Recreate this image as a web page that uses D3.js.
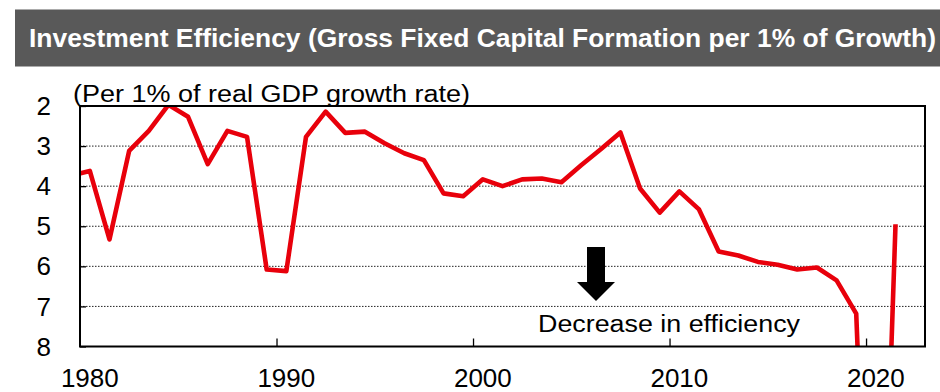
<!DOCTYPE html>
<html>
<head>
<meta charset="utf-8">
<script src="https://cdn.jsdelivr.net/npm/d3@7"></script>
<style>
  html, body { margin: 0; padding: 0; background: #fff; }
  svg { display: block; font-family: "Liberation Sans", Arial, sans-serif; }
</style>
</head>
<body>
<svg id="chart" width="940" height="392"></svg>
<script>
// Gross fixed capital formation per 1% of real GDP growth, by year
const years = [1979, 1980, 1981, 1982, 1983, 1984, 1985, 1986, 1987, 1988, 1989,
  1990, 1991, 1992, 1993, 1994, 1995, 1996, 1997, 1998, 1999,
  2000, 2001, 2002, 2003, 2004, 2005, 2006, 2007, 2008, 2009,
  2010, 2011, 2012, 2013, 2014, 2015, 2016, 2017, 2018, 2019,
  2020, 2021];
const ratio = [3.74, 3.62, 5.33, 3.12, 2.62, 1.97, 2.27, 3.45, 2.62, 2.77, 6.08,
  6.12, 2.77, 2.14, 2.67, 2.64, 2.93, 3.18, 3.35, 4.18, 4.25,
  3.83, 4.00, 3.83, 3.81, 3.90, 3.48, 3.08, 2.66, 4.06, 4.66,
  4.13, 4.58, 5.63, 5.73, 5.89, 5.96, 6.08, 6.03, 6.35, 7.18,
  19.5, 4.95];
const yTicks = [2, 3, 4, 5, 6, 7, 8];
const xTickYears = [1980, 1990, 2000, 2010, 2020];

const titleText = "Investment Efficiency (Gross Fixed Capital Formation per 1% of Growth)";
const unitText = "(Per 1% of real GDP growth rate)";
const noteText = "Decrease in efficiency";

const svg = d3.select("#chart");
const plot = { left: 80, right: 925, top: 106, bottom: 346.5 };

// each year occupies one category slot; points sit at the slot centre
const x = d3.scaleLinear().domain([1979.5, 2022.5]).range([plot.left, plot.right]);
// inverted axis: smaller values (better efficiency) at the top
const y = d3.scaleLinear().domain([2, 8]).range([plot.top, plot.bottom]);

// title band
svg.append("rect")
  .attr("x", 15).attr("y", 9.5).attr("width", 925).attr("height", 57)
  .attr("fill", "#595959");
svg.append("text")
  .attr("x", 29).attr("y", 46.5)
  .attr("fill", "#fff")
  .attr("font-weight", "bold")
  .attr("font-size", 25.5)
  .attr("textLength", 907)
  .attr("lengthAdjust", "spacingAndGlyphs")
  .text(titleText);

// dotted gridlines
svg.append("g")
  .selectAll("line")
  .data(yTicks.slice(1, -1))
  .join("line")
  .attr("x1", plot.left).attr("x2", plot.right)
  .attr("y1", d => y(d)).attr("y2", d => y(d))
  .attr("stroke", "#222")
  .attr("stroke-width", 1)
  .attr("stroke-dasharray", "1.5,1.5");

// y-axis: labels on the left, short ticks pointing inward
const yAxis = d3.axisRight(y).tickValues(yTicks).tickSize(6).tickFormat("");
svg.append("g")
  .attr("transform", `translate(${plot.left},0)`)
  .call(yAxis)
  .call(g => g.select(".domain").remove())
  .call(g => g.selectAll(".tick line").attr("stroke", "#000").attr("stroke-width", 1.3));
svg.append("g")
  .selectAll("text")
  .data(yTicks)
  .join("text")
  .attr("x", 51)
  .attr("y", d => y(d))
  .attr("dy", "0.35em")
  .attr("text-anchor", "end")
  .attr("font-size", 26)
  .attr("fill", "#000")
  .text(d => d);

// x-axis: ticks on category boundaries, labels centred on the year
const xAxis = d3.axisTop(x)
  .tickValues(xTickYears.slice(1).map(d => d - 0.5))
  .tickSize(8)
  .tickFormat("");
svg.append("g")
  .attr("transform", `translate(0,${plot.bottom})`)
  .call(xAxis)
  .call(g => g.select(".domain").remove())
  .call(g => g.selectAll(".tick line").attr("stroke", "#000").attr("stroke-width", 1.3));
svg.append("g")
  .selectAll("text")
  .data(xTickYears)
  .join("text")
  .attr("x", d => x(d))
  .attr("y", 387)
  .attr("text-anchor", "middle")
  .attr("font-size", 26)
  .attr("fill", "#000")
  .text(d => d);

// series line, clipped to the plot frame
svg.append("clipPath").attr("id", "plot-clip")
  .append("rect")
  .attr("x", plot.left).attr("y", plot.top)
  .attr("width", plot.right - plot.left).attr("height", plot.bottom - plot.top);

const series = years.map((yr, i) => ({ year: yr, value: ratio[i] }));
const line = d3.line().x(d => x(d.year)).y(d => y(d.value));
svg.append("path")
  .datum(series)
  .attr("clip-path", "url(#plot-clip)")
  .attr("d", line)
  .attr("fill", "none")
  .attr("stroke", "#e8000b")
  .attr("stroke-width", 4.6)
  .attr("stroke-linejoin", "round");

// plot frame
svg.append("rect")
  .attr("x", plot.left).attr("y", plot.top)
  .attr("width", plot.right - plot.left).attr("height", plot.bottom - plot.top)
  .attr("fill", "none")
  .attr("stroke", "#000")
  .attr("stroke-width", 2);

// unit note above the frame
svg.append("text")
  .attr("x", 73).attr("y", 101.5)
  .attr("font-size", 23.5)
  .attr("fill", "#000")
  .attr("textLength", 397)
  .attr("lengthAdjust", "spacingAndGlyphs")
  .text(unitText);

// downward arrow and annotation
const ax = 596, aTop = 247, aNeck = 282, aTip = 301;
svg.append("path")
  .attr("d", `M${ax - 9},${aTop} L${ax + 9},${aTop} L${ax + 9},${aNeck} L${ax + 19},${aNeck} L${ax},${aTip} L${ax - 19},${aNeck} L${ax - 9},${aNeck} Z`)
  .attr("fill", "#000");
svg.append("text")
  .attr("x", 538).attr("y", 331.5)
  .attr("font-size", 23.5)
  .attr("fill", "#000")
  .attr("textLength", 262)
  .attr("lengthAdjust", "spacingAndGlyphs")
  .text(noteText);
</script>
</body>
</html>
